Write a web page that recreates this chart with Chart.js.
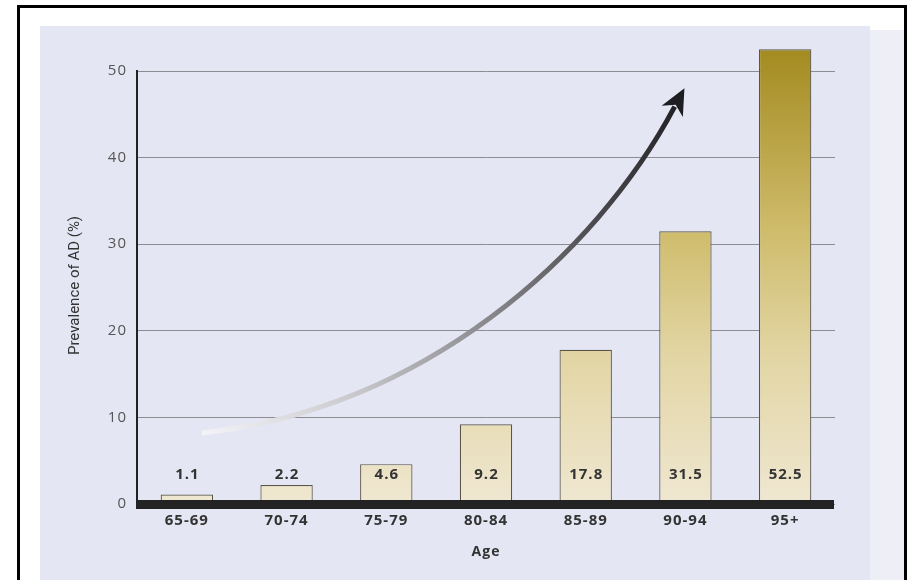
<!DOCTYPE html>
<html>
<head>
<meta charset="utf-8">
<script src="https://cdn.jsdelivr.net/npm/chart.js@4.4.1/dist/chart.umd.min.js"></script>
<style>
  html, body { margin: 0; padding: 0; background: #ffffff; }
  #wrap { width: 910px; height: 580px; position: relative; }
</style>
</head>
<body>
<div id="wrap"><canvas id="c" width="910" height="580"></canvas></div>
<script>
// ---- data ----
const categories = ['65-69', '70-74', '75-79', '80-84', '85-89', '90-94', '95+'];
const prevalence = [1.1, 2.2, 4.6, 9.2, 17.8, 31.5, 52.5];
const valueLabels = ['1.1', '2.2', '4.6', '9.2', '17.8', '31.5', '52.5'];
const yTickValues = [0, 10, 20, 30, 40, 50];
const yAxisTitle = 'Prevalence of AD (%)';
const xAxisTitle = 'Age';
// trend arrow anchors in data units: [category index, prevalence]
const arrowStart = [0.15, 8.2];
const arrowCtrl1 = [2.35, 10.8];
const arrowCtrl2 = [4.10, 28.7];
const arrowEnd = [4.99, 48.0];
const labelLevel = 3.4; // value level at which the numbers sit

const FONT = "'Open Sans', 'DejaVu Sans', sans-serif";

const bgPlugin = {
  id: 'bg',
  beforeDraw(chart) {
    const ctx = chart.ctx;
    ctx.save();
    ctx.fillStyle = '#ffffff';
    ctx.fillRect(0, 0, 910, 580);
    ctx.fillStyle = '#eeeff6';
    ctx.fillRect(866, 30, 38, 550);
    ctx.fillStyle = '#e5e6f3';
    ctx.fillRect(40, 26, 830, 554);
    ctx.strokeStyle = '#000000';
    ctx.lineWidth = 3;
    ctx.beginPath();
    ctx.moveTo(18.5, 580);
    ctx.lineTo(18.5, 6.5);
    ctx.lineTo(905.5, 6.5);
    ctx.lineTo(905.5, 580);
    ctx.stroke();
    ctx.restore();
    ctx.letterSpacing = '1px';
  }
};

const decoPlugin = {
  id: 'deco',
  afterDatasetsDraw(chart) {
    const ctx = chart.ctx;
    const xs = chart.scales.x, ys = chart.scales.y;
    const px = (i) => xs.getPixelForValue(0) + i * (xs.getPixelForValue(1) - xs.getPixelForValue(0));
    const py = (v) => ys.getPixelForValue(v);
    ctx.save();
    // thick baseline
    const y0 = py(0);
    ctx.fillStyle = '#232323';
    ctx.fillRect(chart.chartArea.left - 1, y0 - 4, chart.chartArea.right - chart.chartArea.left, 9);

    // arrow
    const p0 = [px(arrowStart[0]), py(arrowStart[1])];
    const p1 = [px(arrowCtrl1[0]), py(arrowCtrl1[1])];
    const p2 = [px(arrowCtrl2[0]), py(arrowCtrl2[1])];
    const p3 = [px(arrowEnd[0]), py(arrowEnd[1])];
    const ang = Math.atan2(p3[1] - p2[1], p3[0] - p2[0]);
    const headLen = 26, headW = 12;
    const base = [p3[0] - Math.cos(ang) * headLen * 0.8, p3[1] - Math.sin(ang) * headLen * 0.8];
    const grad = ctx.createLinearGradient(p0[0], p0[1], p3[0], p3[1]);
    grad.addColorStop(0, 'rgba(244,244,248,0.9)');
    grad.addColorStop(0.25, '#c8c8cc');
    grad.addColorStop(0.5, '#8a8a8e');
    grad.addColorStop(0.75, '#4a4a4e');
    grad.addColorStop(1, '#1e1e22');
    ctx.strokeStyle = grad;
    ctx.lineWidth = 5;
    ctx.lineCap = 'butt';
    ctx.beginPath();
    ctx.moveTo(p0[0], p0[1]);
    ctx.bezierCurveTo(p1[0], p1[1], p2[0], p2[1], base[0], base[1]);
    ctx.stroke();
    ctx.fillStyle = '#1e1e22';
    ctx.beginPath();
    ctx.moveTo(p3[0], p3[1]);
    const bx = p3[0] - Math.cos(ang) * headLen, by = p3[1] - Math.sin(ang) * headLen;
    ctx.lineTo(bx + Math.sin(ang) * headW, by - Math.cos(ang) * headW);
    ctx.lineTo(p3[0] - Math.cos(ang) * headLen * 0.72, p3[1] - Math.sin(ang) * headLen * 0.72);
    ctx.lineTo(bx - Math.sin(ang) * headW, by + Math.cos(ang) * headW);
    ctx.closePath();
    ctx.fill();

    // value labels
    ctx.fillStyle = '#333333';
    ctx.font = "bold 15px " + FONT;
    ctx.letterSpacing = '1px';
    ctx.textAlign = 'center';
    ctx.textBaseline = 'middle';
    const ly = py(labelLevel);
    valueLabels.forEach((t, i) => {
      ctx.fillText(t, xs.getPixelForValue(i) + 0.5, ly);
    });
    ctx.restore();
  },
  afterDraw(chart) {
    const ctx = chart.ctx;
    const ys = chart.scales.y;
    ctx.save();
    ctx.letterSpacing = '0px';
    ctx.fillStyle = '#333333';
    ctx.font = "15px Roboto, 'DejaVu Sans', sans-serif";
    ctx.textAlign = 'center';
    ctx.textBaseline = 'middle';
    ctx.translate(75, (ys.top + ys.bottom) / 2 - 2);
    ctx.rotate(-Math.PI / 2);
    ctx.fillText(yAxisTitle, 0, 0);
    ctx.restore();
  }
};

function barGradient(context) {
  const chart = context.chart;
  const ys = chart.scales.y;
  if (!chart.chartArea || !ys) return '#e6dcb8';
  const g = chart.ctx.createLinearGradient(0, ys.getPixelForValue(0), 0, ys.getPixelForValue(52.5));
  g.addColorStop(0, '#efe7d1');
  g.addColorStop(0.33, '#e2d5a3');
  g.addColorStop(0.6, '#cfbc6c');
  g.addColorStop(1, '#a48b20');
  return g;
}

new Chart(document.getElementById('c'), {
  type: 'bar',
  data: {
    labels: categories,
    datasets: [{
      data: prevalence,
      backgroundColor: barGradient,
      borderColor: '#5a5548',
      borderWidth: 1.2,
      borderSkipped: false,
      categoryPercentage: 1,
      barPercentage: 0.525,
      clip: false
    }]
  },
  options: {
    responsive: false,
    animation: false,
    devicePixelRatio: 1,
    layout: { padding: { left: 0, top: 71, right: 75, bottom: 0 } },
    plugins: { legend: { display: false }, tooltip: { enabled: false } },
    scales: {
      x: {
        afterFit(scale) { scale.height = 76; },
        grid: { display: false, drawTicks: false },
        border: { display: false },
        ticks: { color: '#333333', font: { family: FONT, size: 15, weight: 'bold' }, padding: 8 },
        title: { display: true, text: xAxisTitle, color: '#333333', font: { family: FONT, size: 14, weight: 'bold' }, padding: { top: 0, bottom: 20 } }
      },
      y: {
        min: 0, max: 50,
        afterFit(scale) { scale.width = 137; },
        afterBuildTicks(scale) { scale.ticks = yTickValues.map(v => ({ value: v })); },
        grid: { color: '#8c8c92', lineWidth: 1, drawTicks: false },
        border: { display: true, color: '#222222', width: 2 },
        ticks: { color: '#555555', font: { family: FONT, size: 15 }, padding: 10 },
        title: { display: false }
      }
    }
  },
  plugins: [bgPlugin, decoPlugin]
});
</script>
</body>
</html>
